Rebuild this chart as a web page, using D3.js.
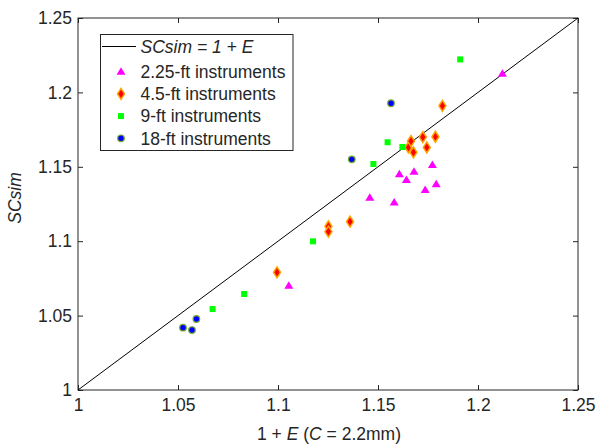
<!DOCTYPE html>
<html>
<head>
<meta charset="utf-8">
<script src="https://cdn.jsdelivr.net/npm/d3@7"></script>
<style>
  body { margin: 0; background: #fff; }
  text { font-family: "Liberation Sans", Arial, sans-serif; fill: #262626; }
</style>
</head>
<body>
<div id="chart"></div>
<script>
// data: [1 + E, SCsim]
const ft225 = [
  [1.2122, 1.2126], [1.1054, 1.0701], [1.1459, 1.1292], [1.1581, 1.126],
  [1.1607, 1.145], [1.1642, 1.1411], [1.168, 1.1467], [1.1736, 1.1344],
  [1.1772, 1.1512], [1.1791, 1.1382]
];
const ft45 = [
  [1.0995, 1.0791], [1.1252, 1.11], [1.1252, 1.1064], [1.136, 1.1131],
  [1.1652, 1.163], [1.1665, 1.1673], [1.1677, 1.1597], [1.1724, 1.170],
  [1.1744, 1.163], [1.1787, 1.1702], [1.1822, 1.191]
];
const ft9 = [
  [1.0673, 1.0544], [1.0831, 1.0645], [1.1175, 1.0999], [1.1477, 1.1519],
  [1.1548, 1.1665], [1.1622, 1.1633], [1.1911, 1.2222]
];
const ft18 = [
  [1.0525, 1.0419], [1.057, 1.0403], [1.0592, 1.0477],
  [1.1369, 1.155], [1.1565, 1.1927]
];
const ticks = [1, 1.05, 1.1, 1.15, 1.2, 1.25];

const width = 600, height = 447;
const margin = { left: 78, right: 22, top: 18, bottom: 57 };
const fs = 17.5;

const x = d3.scaleLinear().domain([1, 1.25]).range([margin.left, width - margin.right]);
const y = d3.scaleLinear().domain([1, 1.25]).range([height - margin.bottom, margin.top]);

const svg = d3.select("#chart").append("svg")
  .attr("width", width)
  .attr("height", height);

const fmt = d => String(d);

// axes with inward ticks (all four sides)
svg.append("g")
  .attr("transform", `translate(0,${y(1)})`)
  .call(d3.axisBottom(x).tickValues(ticks).tickFormat(fmt).tickSize(-5).tickPadding(9))
  .call(g => g.select(".domain").remove());
svg.append("g")
  .attr("transform", `translate(${x(1)},0)`)
  .call(d3.axisLeft(y).tickValues(ticks).tickFormat(fmt).tickSize(-5).tickPadding(6))
  .call(g => g.select(".domain").remove());
svg.append("g")
  .attr("transform", `translate(0,${y(1.25)})`)
  .call(d3.axisTop(x).tickValues(ticks).tickFormat("").tickSize(-5))
  .call(g => g.select(".domain").remove());
svg.append("g")
  .attr("transform", `translate(${x(1.25)},0)`)
  .call(d3.axisRight(y).tickValues(ticks).tickFormat("").tickSize(-5))
  .call(g => g.select(".domain").remove());

svg.selectAll(".tick line").attr("stroke", "#262626");
svg.selectAll(".tick text").attr("font-size", fs).style("fill", "#262626");

svg.append("rect")
  .attr("x", x(1)).attr("y", y(1.25))
  .attr("width", x(1.25) - x(1)).attr("height", y(1) - y(1.25))
  .attr("fill", "none").attr("stroke", "#262626");

// 1:1 line
svg.append("line")
  .attr("x1", x(1)).attr("y1", y(1))
  .attr("x2", x(1.25)).attr("y2", y(1.25))
  .attr("stroke", "#000").attr("stroke-width", 1);

const triangle = "M0,-4.5L4.5,3L-4.5,3Z";
const diamond = "M0,-5.5L3.5,0L0,5.5L-3.5,0Z";

function drawMarks(data, kind) {
  const g = svg.append("g");
  const sel = g.selectAll("path").data(data).enter();
  if (kind === "tri") {
    sel.append("path").attr("d", triangle)
      .attr("transform", d => `translate(${x(d[0])},${y(d[1])})`)
      .attr("fill", "#ff00ff");
  } else if (kind === "dia") {
    sel.append("path").attr("d", diamond)
      .attr("transform", d => `translate(${x(d[0])},${y(d[1])})`)
      .attr("fill", "#ff0000").attr("stroke", "#ffa500").attr("stroke-width", 1.5);
  } else if (kind === "sq") {
    sel.append("rect")
      .attr("x", d => x(d[0]) - 3).attr("y", d => y(d[1]) - 3)
      .attr("width", 6).attr("height", 6)
      .attr("fill", "#00ff00");
  } else {
    sel.append("circle")
      .attr("cx", d => x(d[0])).attr("cy", d => y(d[1])).attr("r", 3.3)
      .attr("fill", "#0000ff").attr("stroke", "#77ac30").attr("stroke-width", 1.2);
  }
}
drawMarks(ft225, "tri");
drawMarks(ft45, "dia");
drawMarks(ft9, "sq");
drawMarks(ft18, "circ");

// legend
const lg = svg.append("g");
lg.append("rect")
  .attr("x", 100.5).attr("y", 34.5).attr("width", 192.5).attr("height", 116)
  .attr("fill", "#fff").attr("stroke", "#262626");
lg.append("line").attr("x1", 102).attr("x2", 136).attr("y1", 46.5).attr("y2", 46.5)
  .attr("stroke", "#000");
lg.append("text").attr("x", 140.5).attr("y", 53).attr("font-size", fs)
  .attr("font-style", "italic").text("SCsim = 1 + E");
const items = [
  ["tri", "2.25-ft instruments"],
  ["dia", "4.5-ft instruments"],
  ["sq", "9-ft instruments"],
  ["circ", "18-ft instruments"]
];
items.forEach(([kind, label], i) => {
  const cy = 71.7 + i * 22.2;
  const mx = 121;
  if (kind === "tri") lg.append("path").attr("d", triangle).attr("transform", `translate(${mx},${cy})`).attr("fill", "#ff00ff");
  if (kind === "dia") lg.append("path").attr("d", diamond).attr("transform", `translate(${mx},${cy})`).attr("fill", "#ff0000").attr("stroke", "#ffa500").attr("stroke-width", 1.5);
  if (kind === "sq") lg.append("rect").attr("x", mx - 3).attr("y", cy - 3).attr("width", 6).attr("height", 6).attr("fill", "#00ff00");
  if (kind === "circ") lg.append("circle").attr("cx", mx).attr("cy", cy).attr("r", 3.3).attr("fill", "#0000ff").attr("stroke", "#77ac30").attr("stroke-width", 1.2);
  lg.append("text").attr("x", 140.5).attr("y", cy + 6.2).attr("font-size", fs).text(label);
});

// axis labels
const xl = svg.append("text")
  .attr("x", 329).attr("y", 440).attr("text-anchor", "middle").attr("font-size", fs);
xl.append("tspan").text("1 +  ");
xl.append("tspan").attr("font-style", "italic").text("E");
xl.append("tspan").text(" (");
xl.append("tspan").attr("font-style", "italic").text("C");
xl.append("tspan").text(" = 2.2mm)");

svg.append("text")
  .attr("transform", `translate(21,198) rotate(-90)`)
  .attr("text-anchor", "middle").attr("font-size", fs).attr("font-style", "italic")
  .text("SCsim");
</script>
</body>
</html>
